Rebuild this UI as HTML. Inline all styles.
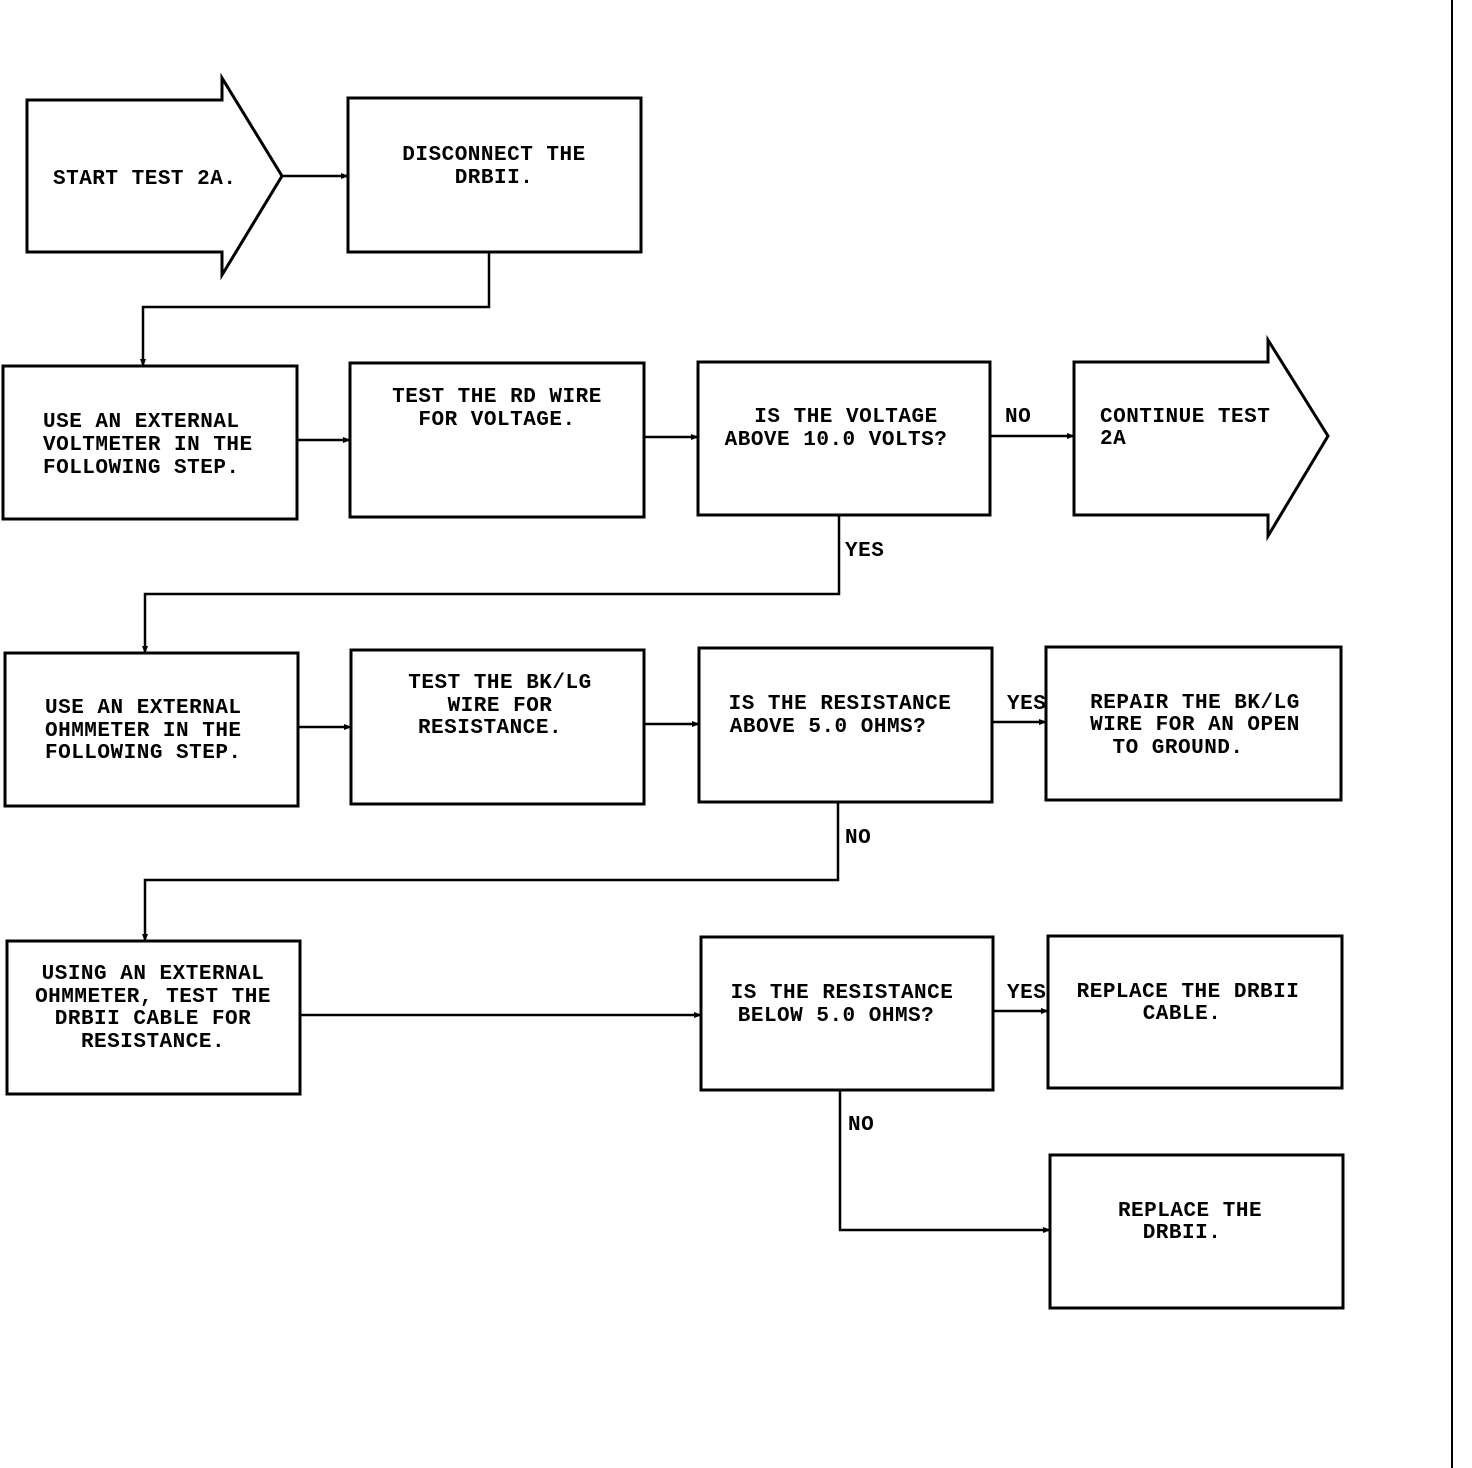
<!DOCTYPE html>
<html><head><style>
html,body{margin:0;padding:0;background:#fff;}
svg{display:block;}
text{font-family:"Liberation Mono",monospace;font-weight:bold;font-size:21px;fill:#000;letter-spacing:0.5px;}
</style></head><body>
<svg width="1472" height="1468" viewBox="0 0 1472 1468" xmlns="http://www.w3.org/2000/svg">
<defs><marker id="a" markerWidth="8" markerHeight="8" refX="7" refY="4" orient="auto" markerUnits="userSpaceOnUse"><path d="M0,1 L8,4 L0,7 z" fill="#000"/></marker></defs>
<g fill="none" stroke="#000" stroke-width="3">
<polygon points="27,100 222,100 222,78 282,176 222,275 222,252 27,252"/>
<rect x="348" y="98" width="293" height="154"/>
<rect x="3" y="366" width="294" height="153"/>
<rect x="350" y="363" width="294" height="154"/>
<rect x="698" y="362" width="292" height="153"/>
<polygon points="1074,362 1268,362 1268,340 1328,436 1268,536 1268,515 1074,515"/>
<rect x="5" y="653" width="293" height="153"/>
<rect x="351" y="650" width="293" height="154"/>
<rect x="699" y="648" width="293" height="154"/>
<rect x="1046" y="647" width="295" height="153"/>
<rect x="7" y="941" width="293" height="153"/>
<rect x="701" y="937" width="292" height="153"/>
<rect x="1048" y="936" width="294" height="152"/>
<rect x="1050" y="1155" width="293" height="153"/>
</g>
<g fill="none" stroke="#000" stroke-width="2.5" marker-end="url(#a)">
<path d="M282,176 H348"/>
<path d="M489,252 V307 H143 V366"/>
<path d="M297,440 H350"/>
<path d="M644,437 H698"/>
<path d="M990,436 H1074"/>
<path d="M839,515 V594 H145 V653"/>
<path d="M298,727 H351"/>
<path d="M644,724 H699"/>
<path d="M992,722 H1046"/>
<path d="M838,802 V880 H145 V941"/>
<path d="M300,1015 H701"/>
<path d="M993,1011 H1048"/>
<path d="M840,1090 V1230 H1050"/>
</g>
<line x1="1452" y1="0" x2="1452" y2="1468" stroke="#000" stroke-width="2"/>
<text x="53" y="184">START TEST 2A.</text>
<text x="494" y="160" text-anchor="middle">DISCONNECT THE</text>
<text x="494" y="183" text-anchor="middle">DRBII.</text>
<text x="43" y="427">USE AN EXTERNAL</text>
<text x="43" y="450">VOLTMETER IN THE</text>
<text x="43" y="473">FOLLOWING STEP.</text>
<text x="497" y="402" text-anchor="middle">TEST THE RD WIRE</text>
<text x="497" y="425" text-anchor="middle">FOR VOLTAGE.</text>
<text x="846" y="422" text-anchor="middle">IS THE VOLTAGE</text>
<text x="836" y="445" text-anchor="middle">ABOVE 10.0 VOLTS?</text>
<text x="1005" y="422">NO</text>
<text x="1100" y="422">CONTINUE TEST</text>
<text x="1100" y="444">2A</text>
<text x="845" y="556">YES</text>
<text x="45" y="713">USE AN EXTERNAL</text>
<text x="45" y="736">OHMMETER IN THE</text>
<text x="45" y="758">FOLLOWING STEP.</text>
<text x="500" y="688" text-anchor="middle">TEST THE BK/LG</text>
<text x="500" y="711" text-anchor="middle">WIRE FOR</text>
<text x="490" y="733" text-anchor="middle">RESISTANCE.</text>
<text x="840" y="709" text-anchor="middle">IS THE RESISTANCE</text>
<text x="828" y="732" text-anchor="middle">ABOVE 5.0 OHMS?</text>
<text x="1007" y="709">YES</text>
<text x="1195" y="708" text-anchor="middle">REPAIR THE BK/LG</text>
<text x="1195" y="730" text-anchor="middle">WIRE FOR AN OPEN</text>
<text x="1178" y="753" text-anchor="middle">TO GROUND.</text>
<text x="845" y="843">NO</text>
<text x="153" y="979" text-anchor="middle">USING AN EXTERNAL</text>
<text x="153" y="1002" text-anchor="middle">OHMMETER, TEST THE</text>
<text x="153" y="1024" text-anchor="middle">DRBII CABLE FOR</text>
<text x="153" y="1047" text-anchor="middle">RESISTANCE.</text>
<text x="842" y="998" text-anchor="middle">IS THE RESISTANCE</text>
<text x="836" y="1021" text-anchor="middle">BELOW 5.0 OHMS?</text>
<text x="1007" y="998">YES</text>
<text x="1188" y="997" text-anchor="middle">REPLACE THE DRBII</text>
<text x="1182" y="1019" text-anchor="middle">CABLE.</text>
<text x="848" y="1130">NO</text>
<text x="1190" y="1216" text-anchor="middle">REPLACE THE</text>
<text x="1182" y="1238" text-anchor="middle">DRBII.</text>
</svg>
</body></html>
